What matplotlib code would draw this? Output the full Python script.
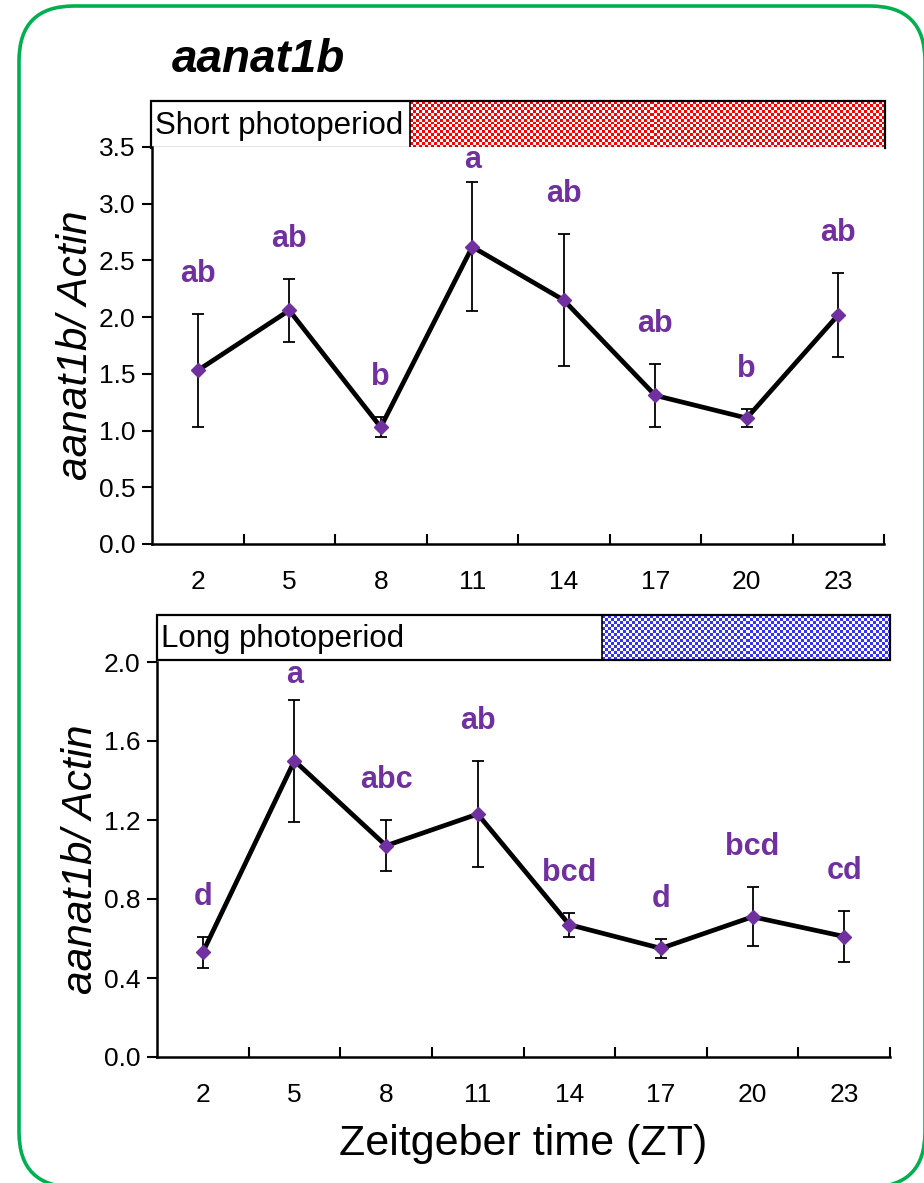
import numpy as np
import matplotlib
matplotlib.use("Agg")
import matplotlib.pyplot as plt
from matplotlib.patches import Rectangle, FancyBboxPatch
from matplotlib.transforms import Affine2D

plt.rcParams['font.family'] = ['Liberation Sans', 'DejaVu Sans']

# sampling times (ZT) and expression values
zt = [2, 5, 8, 11, 14, 17, 20, 23]

short_mean = [1.53, 2.06, 1.03, 2.62, 2.15, 1.31, 1.11, 2.02]
short_err = [0.50, 0.28, 0.09, 0.57, 0.58, 0.28, 0.08, 0.37]
short_sig = ['ab', 'ab', 'b', 'a', 'ab', 'ab', 'b', 'ab']

long_mean = [0.53, 1.50, 1.07, 1.23, 0.67, 0.55, 0.71, 0.61]
long_err = [0.08, 0.31, 0.13, 0.27, 0.06, 0.05, 0.15, 0.13]
long_sig = ['d', 'a', 'abc', 'ab', 'bcd', 'd', 'bcd', 'cd']

purple = '#7030A0'

fig = plt.figure(figsize=(9.24, 11.83), dpi=100)

# green rounded frame, laid out in pixel units (runs past the right/bottom edges)
px = Affine2D().scale(1 / 924, 1 / 1183) + fig.transFigure
frame = FancyBboxPatch((19, -4), 906, 1181,
                       boxstyle='round,pad=0,rounding_size=55',
                       transform=px, fill=False,
                       edgecolor='#00B050', linewidth=2.6)
fig.patches.append(frame)


def header(rect, light_frac, color, text):
    hx = fig.add_axes(rect)
    hx.set_xlim(0, 1)
    hx.set_ylim(0, 1)
    hx.axis('off')
    w_px = rect[2] * 924 * (1 - light_frac)
    h_px = rect[3] * 1183
    nc = int(round(w_px / 3))
    nr = int(round(h_px / 3))
    ii, jj = np.indices((nr, nc))
    chk = (ii + jj) % 2
    rgb = np.ones((nr, nc, 3))
    c = np.array(matplotlib.colors.to_rgb(color))
    rgb[chk == 0] = c
    hx.imshow(rgb, extent=(light_frac, 1, 0, 1), aspect='auto',
              interpolation='nearest', zorder=1)
    hx.add_patch(Rectangle((0, 0), 1, 1, fill=False, edgecolor='black',
                           linewidth=1.6, zorder=3, clip_on=False))
    hx.plot([light_frac, light_frac], [0, 1], color='black', lw=1.2, zorder=3)
    hx.text(0.005, 0.47, text, fontsize=22.5, va='center', ha='left')


def panel(rect, mean, err, sig, ymax, ystep):
    ax = fig.add_axes(rect)
    mean = np.array(mean)
    err = np.array(err)
    ax.errorbar(zt, mean, yerr=err, fmt='none', ecolor='black',
                elinewidth=1.3, capsize=4.5, capthick=1.3, zorder=2)
    ax.plot(zt, mean, color='black', lw=3.4, zorder=3)
    ax.plot(zt, mean, 'D', color=purple, ms=7.5, zorder=4)
    ax.set_xlim(0.5, 24.5)
    ax.set_ylim(0, ymax)
    ax.set_yticks(np.arange(0, ymax + 1e-9, ystep))
    ax.set_yticklabels(['%.1f' % v for v in np.arange(0, ymax + 1e-9, ystep)])
    ax.set_xticks([z + 1.5 for z in zt])
    ax.set_xticklabels([])
    ax.set_xticks(zt, minor=True)
    ax.set_xticklabels([str(z) for z in zt], minor=True)
    ax.tick_params(axis='x', which='major', direction='in', length=7, width=1.5)
    ax.tick_params(axis='x', which='minor', length=0, pad=19, labelsize=19)
    ax.tick_params(axis='y', direction='out', length=7, width=1.5, labelsize=19, pad=5)
    for s in ['top', 'right']:
        ax.spines[s].set_visible(False)
    for s in ['left', 'bottom']:
        ax.spines[s].set_linewidth(1.8)
    gap = 0.063 * ymax
    lim = 0.93 * ymax
    for x, m, e, s in zip(zt, mean, err, sig):
        y = min(m + e + gap, lim)
        ax.text(x, y, s, color=purple, fontsize=22, fontweight='bold',
                ha='center', va='bottom')
    ax.set_ylabel('aanat1b/ Actin', fontsize=30.5, style='italic', labelpad=2)
    return ax


# short photoperiod
header([151 / 924, 1 - 148 / 1183, 734 / 924, 47 / 1183], 0.353, '#FF0000',
       'Short photoperiod')
ax1 = panel([152 / 924, 1 - 544 / 1183, 732 / 924, 397 / 1183],
            short_mean, short_err, short_sig, 3.5, 0.5)

# long photoperiod
header([157 / 924, 1 - 660 / 1183, 733 / 924, 45 / 1183], 0.607, '#3333FF',
       'Long photoperiod')
ax2 = panel([157 / 924, 1 - 1057 / 1183, 733 / 924, 395 / 1183],
            long_mean, long_err, long_sig, 2.0, 0.4)
ax2.set_xlabel('Zeitgeber time (ZT)', fontsize=31, labelpad=12)

fig.text(258 / 924, 1 - 60 / 1183, 'aanat1b', fontsize=33, fontweight='bold',
         style='italic', ha='center', va='center')

fig.savefig('out.png', dpi=100)
